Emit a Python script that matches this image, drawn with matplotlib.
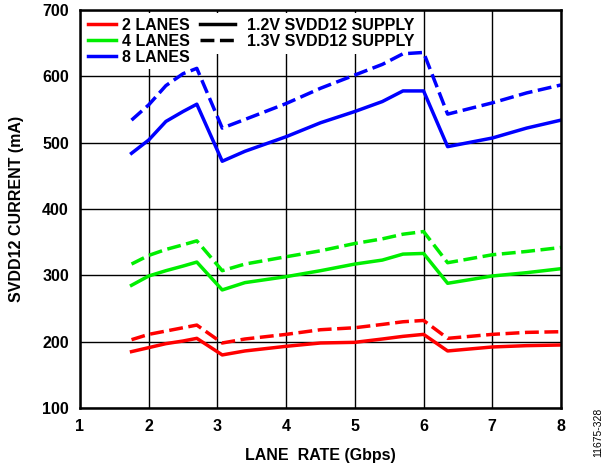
import matplotlib.pyplot as plt

# Data
lane_rate = [1.75, 2.0, 2.25, 2.5, 2.7, 3.07, 3.4, 4.0, 4.5, 5.0, 5.4, 5.7, 6.0, 6.35, 7.0, 7.5, 8.0]

lanes2_12 = [185, 191, 197, 201, 205, 180, 186, 193, 198, 199, 204, 208, 211, 186, 192, 194, 195]
lanes2_13 = [203, 211, 216, 221, 225, 198, 204, 211, 218, 221, 226, 230, 232, 205, 211, 214, 215]
lanes4_12 = [285, 299, 307, 314, 320, 278, 289, 298, 307, 317, 323, 332, 333, 288, 299, 304, 310]
lanes4_13 = [317, 330, 339, 346, 352, 307, 317, 328, 337, 348, 355, 362, 366, 319, 331, 336, 342]
lanes8_12 = [484, 504, 532, 547, 558, 472, 487, 509, 530, 547, 562, 578, 578, 494, 507, 522, 534]
lanes8_13 = [534, 557, 586, 604, 612, 522, 535, 559, 582, 602, 618, 634, 636, 543, 560, 575, 587]

x_ticks = [1, 2, 3, 4, 5, 6, 7, 8]
y_ticks = [100, 200, 300, 400, 500, 600, 700]

plt.rcParams['font.family'] = ['Liberation Sans', 'DejaVu Sans']
plt.rcParams['font.weight'] = 'bold'

fig = plt.figure(figsize=(6.05, 4.71), dpi=100)
ax = fig.add_axes([80 / 605, 63 / 471, 481 / 605, 398 / 471])
ax.set_axisbelow(True)

lw = 2.5
dash = (0, (4.0, 1.6))
red, green, blue = '#ff0000', '#00ee00', '#0000ff'
ax.plot(lane_rate, lanes2_12, color=red, lw=lw, zorder=3)
ax.plot(lane_rate, lanes2_13, color=red, lw=lw, ls=dash, zorder=3)
ax.plot(lane_rate, lanes4_12, color=green, lw=lw, zorder=3)
ax.plot(lane_rate, lanes4_13, color=green, lw=lw, ls=dash, zorder=3)
ax.plot(lane_rate, lanes8_12, color=blue, lw=lw, zorder=3)
ax.plot(lane_rate, lanes8_13, color=blue, lw=lw, ls=dash, zorder=3)

ax.set_xlim(1, 8)
ax.set_ylim(100, 700)
ax.set_xticks(x_ticks)
ax.set_yticks(y_ticks)
ax.tick_params(length=0, labelsize=11.5, pad=8)
ax.grid(True, color='black', lw=1.0)
for s in ax.spines.values():
    s.set_linewidth(1.8)
    s.set_zorder(4)

ax.set_xlabel('LANE  RATE (Gbps)', fontsize=11.5, fontweight='bold', labelpad=10)
ax.set_ylabel('SVDD12 CURRENT (mA)', fontsize=11.5, fontweight='bold', labelpad=13)

# legend: colour for lane count, line style for supply
leg_style = dict(fontsize=11.5, frameon=True, fancybox=False, framealpha=1,
                 edgecolor='none', facecolor='white', labelspacing=0.05,
                 borderpad=0.3, borderaxespad=0.2)
lane_handles = [plt.Line2D([], [], color=c, lw=lw) for c in (red, green, blue)]
leg1 = ax.legend(lane_handles, ['2 LANES', '4 LANES', '8 LANES'], loc='upper left',
                 bbox_to_anchor=(0.0, 1.0), handlelength=1.75, handletextpad=0.4,
                 **leg_style)
leg1.set_zorder(2)
ax.add_artist(leg1)

supply_handles = [plt.Line2D([], [], color='black', lw=lw),
                  plt.Line2D([], [], color='black', lw=lw, ls=dash)]
leg2 = ax.legend(supply_handles, ['1.2V SVDD12 SUPPLY', '1.3V SVDD12 SUPPLY'],
                 loc='upper left', bbox_to_anchor=(112 / 481, 1.0),
                 handlelength=2.2, handletextpad=0.75, **leg_style)
leg2.set_zorder(2)

fig.text(598 / 605, 1 - 432 / 471, '11675-328', rotation=90, fontsize=7.5,
         fontweight='normal', ha='center', va='center')

fig.savefig('out.png', dpi=100)
